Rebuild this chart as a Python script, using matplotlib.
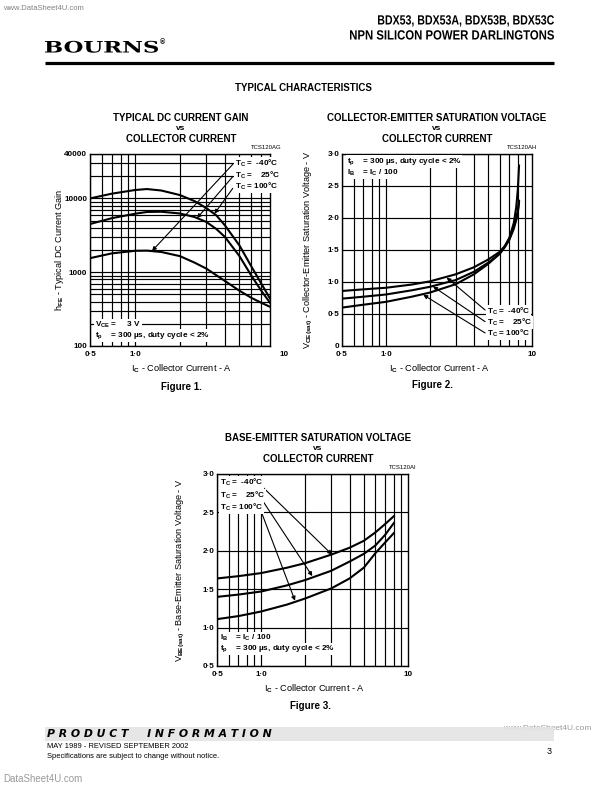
import matplotlib.pyplot as plt
from matplotlib.patches import Rectangle, PathPatch
from matplotlib.textpath import TextPath
from matplotlib.font_manager import FontProperties
from matplotlib.transforms import Affine2D, blended_transform_factory
from matplotlib.ticker import NullFormatter

plt.rcParams['font.family'] = ['Liberation Sans', 'DejaVu Sans']
plt.rcParams['font.weight'] = 'bold'
plt.rcParams['mathtext.fontset'] = 'custom'
plt.rcParams['mathtext.rm'] = 'Liberation Sans:bold'
plt.rcParams['mathtext.it'] = 'Liberation Sans:bold'
plt.rcParams['mathtext.bf'] = 'Liberation Sans:bold'

# Figure 1 - hFE vs Ic
gain_ic = [0.5, 0.7, 1.0, 1.2, 1.5, 2.0, 2.5, 3.0, 3.5, 4.0, 5.0, 6.0, 7.0, 8.0]
gain_m40 = [1550, 1800, 1950, 1960, 1880, 1650, 1350, 1120, 910, 760, 560, 450, 385, 340]
gain_25 = [4500, 5400, 6200, 6550, 6600, 6250, 5600, 4800, 3850, 3000, 1650, 900, 560, 385]
gain_100 = [10000, 11600, 13000, 13400, 12800, 11100, 9200, 7400, 5900, 4300, 2300, 1200, 700, 440]

# Figure 2 - VCE(sat) vs Ic
vce_ic = [0.5, 0.7, 1.0, 1.5, 2.0, 3.0, 4.0, 5.0, 6.0, 6.5, 7.0, 7.5, 7.8, 8.0, 8.15]
vce_m40 = [0.86, 0.885, 0.91, 0.96, 1.01, 1.12, 1.23, 1.35, 1.47, 1.56, 1.69, 1.92, 2.17, 2.45, 2.82]
vce_25 = [0.74, 0.77, 0.805, 0.87, 0.925, 1.03, 1.16, 1.30, 1.44, 1.54, 1.66, 1.83, 1.97, 2.09, 2.24]
vce_100 = [0.60, 0.645, 0.69, 0.77, 0.835, 0.965, 1.12, 1.28, 1.44, 1.55, 1.68, 1.86, 2.00, 2.12, 2.27]

# Figure 3 - VBE(sat) vs Ic
vbe_ic = [0.5, 0.7, 1.0, 1.5, 2.0, 3.0, 4.0, 5.0, 6.0, 7.0, 8.0]
vbe_m40 = [1.64, 1.67, 1.71, 1.78, 1.84, 1.95, 2.04, 2.13, 2.24, 2.35, 2.45]
vbe_25 = [1.40, 1.43, 1.47, 1.55, 1.62, 1.74, 1.86, 1.96, 2.07, 2.21, 2.36]
vbe_100 = [1.11, 1.15, 1.21, 1.30, 1.38, 1.51, 1.64, 1.78, 1.97, 2.11, 2.23]

temp_labels = ['T$_C$ =  -40°C', 'T$_C$ =    25°C', 'T$_C$ = 100°C']

x_major = [0.5, 1.0]
x_major_lbl = ['0·5', '1·0']
x_minor = [0.6, 0.7, 0.8, 0.9, 2, 3, 4, 5, 6, 7, 8, 9]

W, H = 595, 792
fig = plt.figure(figsize=(W / 100, H / 100), dpi=100)


def box(l, t, r, b):
    return [l / W, 1 - b / H, (r - l) / W, (b - t) / H]


page = fig.add_axes([0, 0, 1, 1], zorder=0)
page.set_xlim(0, W)
page.set_ylim(H, 0)
page.axis('off')

ax1 = fig.add_axes(box(90, 154, 270, 346), zorder=2)
ax2 = fig.add_axes(box(342, 154, 532, 346), zorder=2)
ax3 = fig.add_axes(box(217, 474, 408, 666), zorder=2)

FS = 5.9
LS = 6.6
wbox = dict(facecolor='white', edgecolor='none', pad=0.6)
arr = dict(arrowstyle='-|>', color='k', lw=0.8, mutation_scale=6, shrinkA=0, shrinkB=0)


def style(ax, xmax, ylabel, ylab_x):
    ax.set_xscale('log')
    ax.set_xlim(0.5, xmax)
    ax.set_xticks(x_major, x_major_lbl)
    ax.set_xticks([v for v in x_minor if v < xmax], minor=True)
    ax.xaxis.set_minor_formatter(NullFormatter())
    ax.tick_params(which='both', length=0, labelsize=FS)
    ax.tick_params(axis='x', pad=3.5)
    ax.tick_params(axis='y', pad=2)
    ax.grid(True, which='both', color='k', lw=0.85)
    ax.set_axisbelow(True)
    for s in ax.spines.values():
        s.set_linewidth(1.0)
    ax.set_xlabel('I$_C$ - Collector Current - A', fontsize=LS)
    ax.xaxis.set_label_coords(0.51, -0.088)
    ax.set_ylabel(ylabel, fontsize=LS)
    ax.yaxis.set_label_coords(ylab_x, 0.5)
    # the "10" tick label sits at 10 A, even where the frame stops at 8 A
    tr = blended_transform_factory(ax.transData, ax.transAxes)
    ax.text(10, -0.0245, '10', transform=tr, ha='center', va='top', fontsize=FS, clip_on=False)


# ---- Figure 1
style(ax1, 8, 'h$_{FE}$ - Typical DC Current Gain', -0.136)
ax1.set_yscale('log')
ax1.set_ylim(100, 40000)
ax1.set_yticks([100, 1000, 10000, 40000], ['100', '1000', '10000', '40000'])
ax1.set_yticks([200, 300, 400, 500, 600, 700, 800, 900, 2000, 3000, 4000, 5000, 6000,
                7000, 8000, 9000, 20000, 30000], minor=True)
ax1.yaxis.set_minor_formatter(NullFormatter())
ax1.tick_params(which='both', length=0, labelsize=FS)
for ys in (gain_m40, gain_25, gain_100):
    ax1.plot(gain_ic, ys, color='k', lw=1.5, zorder=3)
for lbl, fy in zip(temp_labels, [0.951, 0.890, 0.832]):
    ax1.text(0.806, fy, lbl, transform=ax1.transAxes, fontsize=FS, va='center', bbox=wbox, zorder=5)
for (hx, hy), fy in zip([(1.3, 1940), (2.6, 5400), (3.4, 6200)], [0.946, 0.882, 0.821]):
    ax1.annotate('', xy=(hx, hy), xycoords='data', xytext=(0.793, fy), textcoords='axes fraction',
                 arrowprops=arr, zorder=4)
ax1.text(0.028, 0.109, 'V$_{CE}$ =     3 V', transform=ax1.transAxes, fontsize=FS, va='center', bbox=wbox, zorder=5)
ax1.text(0.028, 0.054, 't$_p$    = 300 µs, duty cycle < 2%', transform=ax1.transAxes, fontsize=FS,
         va='center', bbox=wbox, zorder=5)

# ---- Figure 2
style(ax2, 10, 'V$_{CE(sat)}$ - Collector-Emitter Saturation Voltage - V', -0.142)
ax2.set_ylim(0, 3)
ax2.set_yticks([0, 0.5, 1.0, 1.5, 2.0, 2.5, 3.0], ['0', '0·5', '1·0', '1·5', '2·0', '2·5', '3·0'])
ax2.tick_params(which='both', length=0, labelsize=FS)
for ys in (vce_m40, vce_25, vce_100):
    ax2.plot(vce_ic, ys, color='k', lw=1.5, zorder=3)
for lbl, fy in zip(temp_labels, [0.182, 0.123, 0.064]):
    ax2.text(0.763, fy, lbl, transform=ax2.transAxes, fontsize=FS, va='center', bbox=wbox, zorder=5)
for (hx, hy), fy in zip([(2.6, 1.07), (2.1, 0.93), (1.8, 0.80)], [0.1875, 0.127, 0.068]):
    ax2.annotate('', xy=(hx, hy), xycoords='data', xytext=(0.753, fy), textcoords='axes fraction',
                 arrowprops=arr, zorder=4)
ax2.text(0.025, 0.960, 't$_p$    = 300 µs, duty cycle < 2%', transform=ax2.transAxes, fontsize=FS,
         va='center', bbox=wbox, zorder=5)
ax2.text(0.025, 0.899, 'I$_B$    = I$_C$ / 100', transform=ax2.transAxes, fontsize=FS,
         va='center', bbox=wbox, zorder=5)

# ---- Figure 3
style(ax3, 10, 'V$_{BE(sat)}$ - Base-Emitter Saturation Voltage - V', -0.157)
ax3.set_ylim(0.5, 3)
ax3.set_yticks([0.5, 1.0, 1.5, 2.0, 2.5, 3.0], ['0·5', '1·0', '1·5', '2·0', '2·5', '3·0'])
ax3.tick_params(which='both', length=0, labelsize=FS)
for ys in (vbe_m40, vbe_25, vbe_100):
    ax3.plot(vbe_ic, ys, color='k', lw=1.5, zorder=3)
for lbl, fy in zip(temp_labels, [0.957, 0.890, 0.826]):
    ax3.text(0.016, fy, lbl, transform=ax3.transAxes, fontsize=FS, va='center', bbox=wbox, zorder=5)
for (hx, hy), fy in zip([(3.04, 1.95), (2.23, 1.67), (1.7, 1.35)], [0.946, 0.882, 0.821]):
    ax3.annotate('', xy=(hx, hy), xycoords='data', xytext=(0.225, fy), textcoords='axes fraction',
                 arrowprops=arr, zorder=4)
ax3.text(0.016, 0.144, 'I$_B$    = I$_C$ / 100', transform=ax3.transAxes, fontsize=FS,
         va='center', bbox=wbox, zorder=5)
ax3.text(0.016, 0.089, 't$_p$    = 300 µs, duty cycle < 2%', transform=ax3.transAxes, fontsize=FS,
         va='center', bbox=wbox, zorder=5)

# ---- titles and captions (page pixel coords)
TS = 7
for cx, lines, y0 in [(181, ['TYPICAL DC CURRENT GAIN', 'vs', 'COLLECTOR CURRENT'], 117.7),
                      (437, ['COLLECTOR-EMITTER SATURATION VOLTAGE', 'vs', 'COLLECTOR CURRENT'], 117.7),
                      (318, ['BASE-EMITTER SATURATION VOLTAGE', 'vs', 'COLLECTOR CURRENT'], 437.7)]:
    for k, t in enumerate(lines):
        page.text(cx, y0 + [0, 11.3, 21.6][k], t, ha='center', va='center',
                  fontsize=TS if t != 'vs' else 6, fontweight='bold')
for rx, y, t in [(281.5, 147.7, 'TCS120AG'), (537, 147.7, 'TCS120AH'), (416.5, 467.7, 'TCS120AI')]:
    page.text(rx, y, t, ha='right', va='center', fontsize=4.3, fontweight='normal')
for cx, y, t in [(181, 387.5, 'Figure 1.'), (432, 385, 'Figure 2.'), (311, 706, 'Figure 3.')]:
    page.text(cx, y, t, ha='center', va='center', fontsize=7, fontweight='bold')


def path_text(s, x0, base, width, cap, family, weight='bold', right=False):
    # text squeezed/stretched to a given box (the datasheet uses a narrow face)
    tp = TextPath((0, 0), s, size=1, prop=FontProperties(family=family, weight=weight))
    ext = tp.get_extents()
    capref = TextPath((0, 0), 'H', size=1, prop=FontProperties(family=family, weight=weight)).get_extents().height
    sx, sy = width / ext.width, cap / capref
    left = x0 - width if right else x0
    tr = Affine2D().translate(-ext.x0, 0).scale(sx, -sy).translate(left, base)
    page.add_patch(PathPatch(tp, transform=tr + page.transData, color='k', lw=0))


# ---- page header
page.text(3, 8, 'www.DataSheet4U.com', fontsize=5.5, color='#808080', fontweight='normal', va='center')
path_text('BDX53, BDX53A, BDX53B, BDX53C', 554, 24.5, 176, 9.2, 'Liberation Sans', right=True)
path_text('NPN SILICON POWER DARLINGTONS', 554, 39.5, 204, 9.2, 'Liberation Sans', right=True)
path_text('BOURNS', 45, 52.5, 113, 11.5, 'DejaVu Serif')
page.text(160, 43, '®', fontsize=5, va='center')
page.plot([45, 554], [63, 63], color='k', lw=2.3, solid_capstyle='butt')
page.text(303, 88, 'TYPICAL CHARACTERISTICS', ha='center', va='center', fontsize=7, fontweight='bold')

# ---- footer
page.text(503, 729, 'www.DataSheet4U.com', fontsize=6, color='#9a9a9a', fontweight='normal', va='center', zorder=1)
page.add_patch(Rectangle((45, 727), 509, 14, facecolor='#e4e4e4', edgecolor='none', alpha=0.9, zorder=2))
page.text(47, 734, 'P R O D U C T     I N F O R M A T I O N', family=['DejaVu Sans'], fontsize=7.8,
          fontweight='bold', style='italic', va='center', zorder=3)
page.text(47, 747, 'MAY 1989 - REVISED SEPTEMBER 2002', fontsize=5.4, fontweight='normal', va='center')
page.text(47, 757, 'Specifications are subject to change without notice.', fontsize=5.4,
          fontweight='normal', va='center')
page.text(552, 752, '3', fontsize=6.5, fontweight='normal', ha='right', va='center')
page.text(3, 779, 'DataSheet4U.com', fontsize=7, color='#9a9a9a', fontweight='normal', va='center')

fig.savefig('out.png', dpi=100)
